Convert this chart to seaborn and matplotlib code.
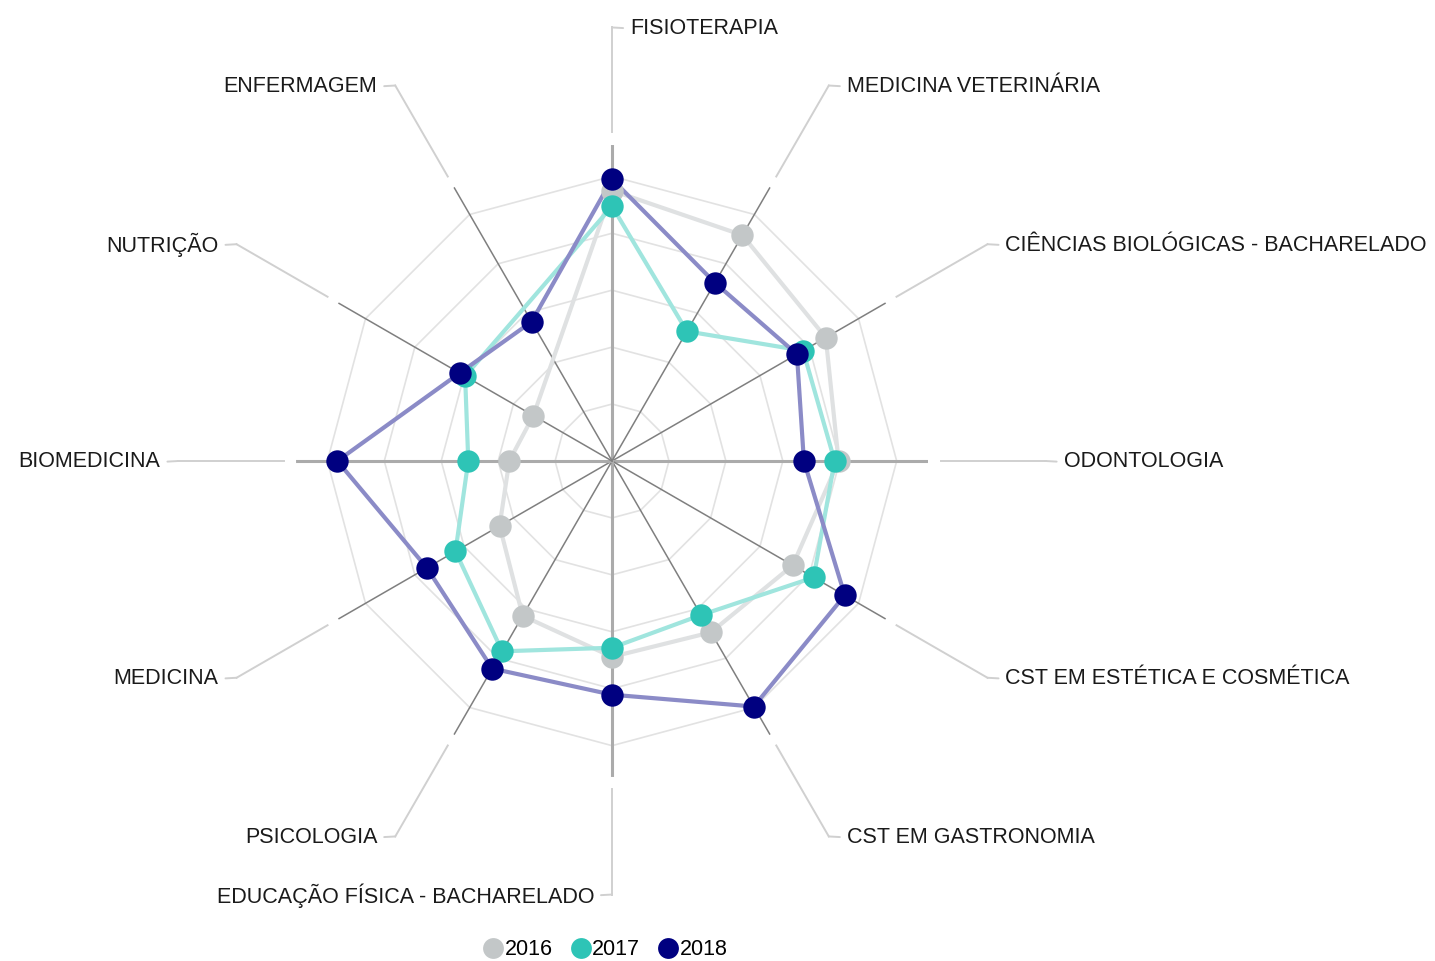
import numpy as np
import pandas as pd
import matplotlib
matplotlib.use("Agg")
import matplotlib.pyplot as plt
from matplotlib.lines import Line2D
import seaborn as sns

# dados (escala 0-100, anel externo = 100)
cursos = ["FISIOTERAPIA", "MEDICINA VETERINÁRIA", "CIÊNCIAS BIOLÓGICAS - BACHARELADO",
          "ODONTOLOGIA", "CST EM ESTÉTICA E COSMÉTICA", "CST EM GASTRONOMIA",
          "EDUCAÇÃO FÍSICA - BACHARELADO", "PSICOLOGIA", "MEDICINA", "BIOMEDICINA",
          "NUTRIÇÃO", "ENFERMAGEM"]
anos = ["2016", "2017", "2018"]
v2016 = [95.0, 91.6, 86.7, 79.6, 73.3, 69.5, 68.8, 62.8, 45.6, 36.1, 31.9, np.nan]
v2017 = [89.5, 52.6, 77.5, 78.2, 81.8, 62.5, 65.6, 77.2, 63.5, 50.5, 59.6, np.nan]
v2018 = [99.0, 72.3, 75.0, 67.4, 94.4, 99.6, 82.1, 84.2, 75.1, 96.5, 61.8, 56.5]
aneis = [20, 40, 60, 80, 100]

cores_marcador = {"2016": "#c3c7c8", "2017": "#2ec4b6", "2018": "#000080"}
cores_linha = {"2016": "#dfe1e2", "2017": "#a0e5de", "2018": "#8b8bc7"}

n = len(cursos)
theta = np.linspace(0, 2 * np.pi, n, endpoint=False)

df = pd.DataFrame({"curso": cursos * 3,
                   "theta": np.tile(theta, 3),
                   "valor": v2016 + v2017 + v2018,
                   "ano": np.repeat(anos, n)})

plt.rcParams["font.family"] = ["Liberation Sans", "DejaVu Sans"]

fig = plt.figure(figsize=(14.35, 9.61), dpi=100)
ax = fig.add_axes([0.2063, 0.1915, 0.4404, 0.6576], projection="polar")
ax.set_theta_offset(np.pi / 2)
ax.set_theta_direction(-1)
ax.set_ylim(0, 111)
ax.grid(False)
ax.spines["polar"].set_visible(False)
ax.set_xticks([])
ax.set_yticks([])

# aneis da grade (poligonos)
t_fech = np.append(theta, theta[0])
for r in aneis:
    ax.plot(t_fech, [r] * (n + 1), color="#e2e2e2", lw=1.2, zorder=1)

# eixos radiais
for t in theta:
    reto = np.isclose(np.sin(2 * t), 0, atol=1e-6)
    ax.plot([t, t], [0, 111], color="#ababab" if reto else "#7f7f7f",
            lw=2.2 if reto else 1.1, zorder=2)

# linhas e marcadores por ano
for ano in anos:
    d = df[(df["ano"] == ano)].dropna()
    d = pd.concat([d, d.iloc[[0]]])
    sns.lineplot(data=d, x="theta", y="valor", sort=False, estimator=None,
                 color=cores_linha[ano], lw=3, ax=ax, zorder=3, legend=False)
    sns.scatterplot(data=d.iloc[:-1], x="theta", y="valor", color=cores_marcador[ano],
                    s=260, linewidth=0, ax=ax, zorder=4, legend=False)
ax.set_xlabel("")
ax.set_ylabel("")
ax.set_ylim(0, 111)

# rotulos com linhas de chamada
r_ini, r_cot = 115.4, 152.3
for t, nome in zip(theta, cursos):
    ax.plot([t, t], [r_ini, r_cot], color="#d0d0d0", lw=1.4, clip_on=False, zorder=1)
    direita = np.sin(t) > 1e-6 or np.isclose(t, 0)
    sinal = 1 if direita else -1
    ax.annotate(nome, xy=(t, r_cot), xytext=(sinal * 18, -1), textcoords="offset pixels",
                ha="left" if direita else "right", va="center", fontsize=15.5,
                color="#1a1a1a", annotation_clip=False,
                arrowprops=dict(arrowstyle="-", color="#d0d0d0", lw=1.4,
                                shrinkA=3, shrinkB=0,
                                relpos=(0, 0.5) if direita else (1, 0.5)))

# legenda
handles = [Line2D([], [], ls="", marker="o", ms=15, color=cores_marcador[a],
                  markeredgewidth=0) for a in anos]
fig.legend(handles, anos, loc="center", bbox_to_anchor=(0.4216, 0.0115), ncol=3,
           frameon=False, fontsize=15.5, handletextpad=0.05, columnspacing=0.8,
           handlelength=1.0, borderpad=0)

fig.savefig("out.png", dpi=100, facecolor="white")
